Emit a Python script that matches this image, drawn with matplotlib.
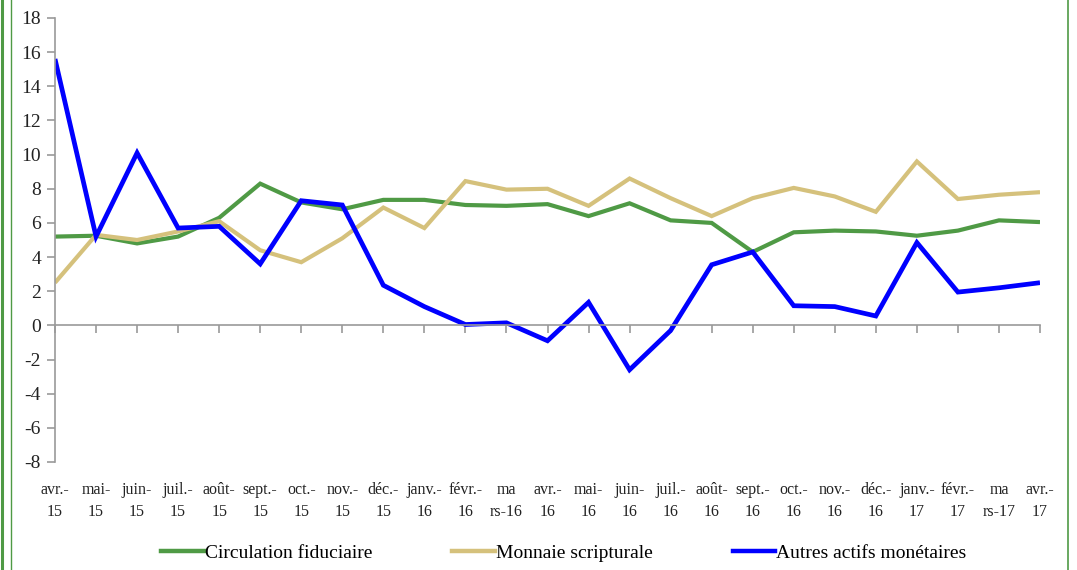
import matplotlib
matplotlib.use("Agg")
import matplotlib.pyplot as plt
from matplotlib.lines import Line2D
import matplotlib.transforms as mtransforms

plt.rcParams['font.family'] = ['Liberation Serif', 'DejaVu Serif']

months = ["avr.-\n15", "mai-\n15", "juin-\n15", "juil.-\n15", "août-\n15", "sept.-\n15",
          "oct.-\n15", "nov.-\n15", "déc.-\n15", "janv.-\n16", "févr.-\n16", "ma\nrs-16",
          "avr.-\n16", "mai-\n16", "juin-\n16", "juil.-\n16", "août-\n16", "sept.-\n16",
          "oct.-\n16", "nov.-\n16", "déc.-\n16", "janv.-\n17", "févr.-\n17", "ma\nrs-17",
          "avr.-\n17"]

circulation = [5.2, 5.25, 4.8, 5.2, 6.3, 8.3, 7.2, 6.8, 7.35, 7.35, 7.05, 7.0, 7.1,
               6.4, 7.15, 6.15, 6.0, 4.3, 5.45, 5.55, 5.5, 5.25, 5.55, 6.15, 6.05]
monnaie = [2.5, 5.3, 5.0, 5.5, 6.1, 4.4, 3.7, 5.1, 6.9, 5.7, 8.45, 7.95, 8.0,
           7.0, 8.6, 7.45, 6.4, 7.45, 8.05, 7.55, 6.65, 9.6, 7.4, 7.65, 7.8]
autres = [15.6, 5.2, 10.1, 5.7, 5.8, 3.6, 7.3, 7.05, 2.35, 1.1, 0.05, 0.15, -0.9,
          1.35, -2.6, -0.3, 3.55, 4.3, 1.15, 1.1, 0.55, 4.85, 1.95, 2.2, 2.5]

series_names = ["Circulation fiduciaire", "Monnaie scripturale", "Autres actifs monétaires"]
colors = ["#4f9a45", "#d5c17c", "#0000ff"]
widths = [3.0, 3.0, 3.4]

W, H = 1077, 570
fig = plt.figure(figsize=(W / 100, H / 100), dpi=100)
ax = fig.add_axes([55 / W, 1 - 462 / H, (1040 - 55) / W, (462 - 18) / H])

x = list(range(len(months)))
for vals, name, c, lw in zip([circulation, monnaie, autres], series_names, colors, widths):
    ax.plot(x, vals, color=c, lw=lw, label=name, solid_joinstyle='miter', solid_capstyle='butt')

ax.set_xlim(0, len(months) - 1)
ax.set_ylim(-8, 18)
ax.set_yticks(range(-8, 19, 2))
ax.set_yticklabels([str(v) for v in range(-8, 19, 2)], fontsize=14, color="#222222")

for s in ["top", "right"]:
    ax.spines[s].set_visible(False)
ax.spines["bottom"].set_position(("data", 0))
for s in ["left", "bottom"]:
    ax.spines[s].set_color("#9a9a9a")
    ax.spines[s].set_linewidth(1.2)

ax.tick_params(axis='y', direction='out', length=6, width=1.2, color="#9a9a9a", pad=4)
ax.set_xticks(x)
ax.tick_params(axis='x', direction='out', length=6, width=1.2, color="#9a9a9a", labelbottom=False)

trans = mtransforms.blended_transform_factory(ax.transData, fig.transFigure)
for xi, lab in zip(x, months):
    ax.text(xi, 1 - 482 / H, lab, transform=trans, ha='center', va='top',
            fontsize=11.5, color="#222222", linespacing=1.5)

handles = [Line2D([], [], color=c, lw=3.2) for c in colors]
fig.legend(handles, series_names, loc='center', bbox_to_anchor=(564 / W, 1 - 553 / H),
           ncol=3, frameon=False, fontsize=14, handlelength=2.2, handletextpad=0.05,
           columnspacing=4.1)

# green frame
fig.add_artist(Line2D([1.5 / W, 1.5 / W], [0, 1], transform=fig.transFigure, color="#4f9a45", lw=2.2))
fig.add_artist(Line2D([10.5 / W, 10.5 / W], [0, 1], transform=fig.transFigure, color="#4f9a45", lw=1.0))
fig.add_artist(Line2D([1067.5 / W, 1067.5 / W], [0, 1], transform=fig.transFigure, color="#4f9a45", lw=1.2))

fig.savefig("out.png", dpi=100)
